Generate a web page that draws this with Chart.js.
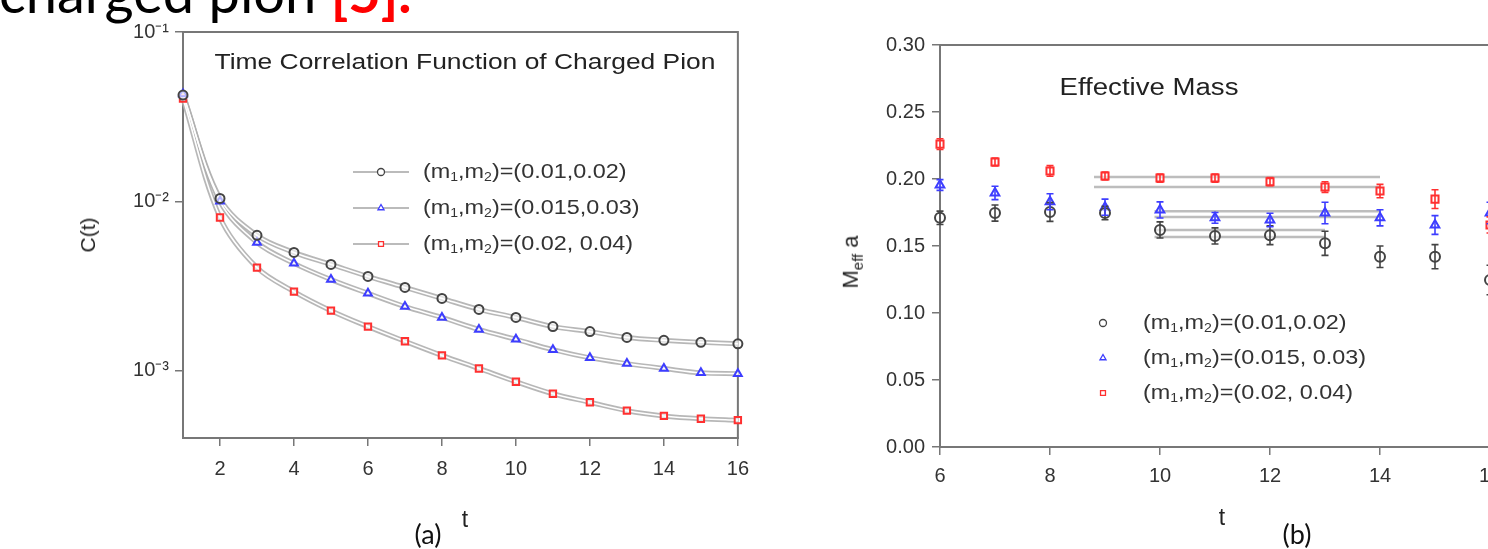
<!DOCTYPE html>
<html>
<head>
<meta charset="utf-8">
<script src="https://cdn.jsdelivr.net/npm/chart.js@4.4.1/dist/chart.umd.min.js"></script>
<style>
    html, body { margin: 0; padding: 0; background: #fff; }
    body { width: 1488px; height: 549px; overflow: hidden; position: relative; font-family: "Liberation Sans", Arial, sans-serif; color: #222; }
    .abs { position: absolute; white-space: nowrap; }
    .slide { font-family: Lato, "Open Sans", sans-serif; }
    #wrapA { position: absolute; left: 0; top: 0; width: 760px; height: 549px; }
    #wrapB { position: absolute; left: 760px; top: 0; width: 760px; height: 549px; }
    .rot { transform: translate(-50%, -50%) rotate(-90deg); }
    .ctr { transform: translate(-50%, -50%); }
    .wide { transform: translate(-50%, -50%) scaleX(1.2); }
</style>
</head>
<body>
<div class="abs slide" style="left:-1px; top:-42px; font-size:56px; color:#000;">charged pion <span style="color:#f00; font-weight:bold;">[5].</span></div>

<div id="wrapA"><canvas id="chartA" width="760" height="549"></canvas></div>
<div id="wrapB"><canvas id="chartB" width="760" height="549"></canvas></div>

<div class="abs wide" style="left:465px; top:62px; font-size:22px; color:#222;">Time Correlation Function of Charged Pion</div>
<div class="abs rot" style="left:88px; top:235px; font-size:21px; color:#222;">C(t)</div>
<div class="abs ctr" style="left:465px; top:519px; font-size:23px; color:#222;">t</div>
<div class="abs ctr slide" style="left:428px; top:533px; font-size:27px; color:#111;">(a)</div>

<div class="abs wide" style="left:1149px; top:87px; font-size:23px; color:#222;">Effective Mass</div>
<div class="abs rot" style="left:852px; top:262px; font-size:22px; color:#222;">M<sub style="font-size:15px;">eff</sub> a</div>
<div class="abs ctr" style="left:1222px; top:517px; font-size:23px; color:#222;">t</div>
<div class="abs ctr slide" style="left:1297px; top:533px; font-size:27px; color:#111;">(b)</div>

<script>
// ---- (a) time correlation function C(t), log scale ----
const tA = [1, 2, 3, 4, 5, 6, 7, 8, 9, 10, 11, 12, 13, 14, 15, 16];
const corrBlack = [0.0424, 0.0104, 0.0063, 0.00499, 0.00424, 0.0036, 0.0031, 0.00267, 0.0023, 0.00206, 0.00182, 0.0017, 0.00157, 0.00151, 0.00147, 0.00144];
const corrBlue  = [0.0430, 0.0100, 0.00571, 0.0043, 0.00345, 0.00286, 0.00239, 0.00206, 0.00175, 0.00153, 0.00133, 0.00119, 0.0011, 0.00103, 0.00097, 0.00096];
const corrRed   = [0.0405, 0.00803, 0.00406, 0.00293, 0.00226, 0.00182, 0.00149, 0.00123, 0.00103, 0.00086, 0.00073, 0.00065, 0.00058, 0.00054, 0.00052, 0.00051];
const xTicksA = [2, 4, 6, 8, 10, 12, 14, 16];
const yTicksA = [0.001, 0.01, 0.1];

// ---- (b) effective mass ----
const tB = [6, 7, 8, 9, 10, 11, 12, 13, 14, 15, 16];
const massBlack = [0.171, 0.1746, 0.1754, 0.1746, 0.162, 0.1575, 0.158, 0.152, 0.142, 0.142, 0.1246];
const massBlue  = [0.1955, 0.1896, 0.183, 0.179, 0.1769, 0.171, 0.1694, 0.1746, 0.171, 0.1657, 0.1746];
const massRed   = [0.226, 0.2127, 0.206, 0.2022, 0.2007, 0.2007, 0.198, 0.194, 0.191, 0.185, 0.1657];
const errBlack  = [0.005, 0.006, 0.007, 0.005, 0.006, 0.006, 0.007, 0.009, 0.008, 0.009, 0.011];
const errBlue   = [0.004, 0.005, 0.006, 0.006, 0.006, 0.004, 0.005, 0.008, 0.006, 0.007, 0.008];
const errRed    = [0.004, 0.003, 0.004, 0.003, 0.003, 0.003, 0.003, 0.004, 0.005, 0.007, 0.006];
// plateau fits (black, blue, red): t range and the two band edges
const fitStart = [9.9, 9.9, 8.8];
const fitEnd   = [13, 14, 14];
const fitHi    = [0.162, 0.176, 0.2015];
const fitLo    = [0.1567, 0.1716, 0.194];
const xTicksB = [6, 8, 10, 12, 14, 16];

const seriesLabels = ["(m_1,m_2)=(0.01,0.02)", "(m_1,m_2)=(0.015,0.03)", "(m_1,m_2)=(0.02, 0.04)"];
const seriesLabelsB = ["(m_1,m_2)=(0.01,0.02)", "(m_1,m_2)=(0.015, 0.03)", "(m_1,m_2)=(0.02, 0.04)"];

const BLACK = "#444", BLUE = "#3d3dff", RED = "#ff3030";
const colors = [BLACK, BLUE, RED];
const styles = ["circle", "triangle", "rect"];
const AXIS = "#777";
const TICKFONT = { family: "'Liberation Sans', Arial, sans-serif", size: 20 };

function pts(xs, ys) { return xs.map((x, i) => ({ x: x, y: ys[i] })); }
function supNum(n) {
    const m = { "-": "\u207B", "0": "\u2070", "1": "\u00B9", "2": "\u00B2", "3": "\u00B3", "4": "\u2074" };
    return String(n).split("").map(c => m[c] || c).join("");
}

// text with "_x" meaning subscript x; sx stretches it horizontally like the source image
function drawRich(ctx, str, x, y, size, sx) {
    ctx.save();
    ctx.translate(x, y);
    ctx.scale(sx, 1);
    let cx = 0;
    for (let i = 0; i < str.length; i++) {
        let ch = str[i], sub = false;
        if (ch === "_") { sub = true; ch = str[++i]; }
        ctx.font = (sub ? Math.round(size * 0.62) : size) + "px 'Liberation Sans', Arial, sans-serif";
        ctx.fillText(ch, cx, sub ? size * 0.28 : 0);
        cx += ctx.measureText(ch).width;
    }
    ctx.restore();
}

const boxPlugin = {
    id: "box",
    beforeDatasetsDraw(chart) {
        const a = chart.chartArea, ctx = chart.ctx;
        ctx.save();
        ctx.strokeStyle = AXIS; ctx.lineWidth = 2;
        ctx.strokeRect(a.left, a.top, a.right - a.left, a.bottom - a.top);
        ctx.restore();
    }
};

const legendPlugin = {
    id: "insideLegend",
    afterDraw(chart, args, o) {
        if (!o.labels) return;
        const ctx = chart.ctx;
        ctx.save();
        o.labels.forEach((lab, i) => {
            const y = o.y + i * o.dy;
            if (o.line) {
                ctx.strokeStyle = "#bbb"; ctx.lineWidth = 2;
                ctx.beginPath(); ctx.moveTo(o.x - 28, y); ctx.lineTo(o.x + 28, y); ctx.stroke();
            }
            ctx.strokeStyle = colors[i]; ctx.fillStyle = "#fff"; ctx.lineWidth = 1.3;
            Chart.helpers.drawPoint(ctx, { pointStyle: styles[i], radius: 3.5, borderWidth: 1.3, rotation: 0 }, o.x, y);
            ctx.fillStyle = "#333"; ctx.textBaseline = "middle"; ctx.textAlign = "left";
            drawRich(ctx, lab, o.textX, y, 20, 1.17);
        });
        ctx.restore();
    }
};

const errorBarPlugin = {
    id: "errorBars",
    afterDatasetsDraw(chart) {
        const ctx = chart.ctx, xs = chart.scales.x, ys = chart.scales.y;
        chart.data.datasets.forEach(ds => {
            if (!ds.errors) return;
            ctx.save();
            ctx.strokeStyle = ds.pointBorderColor; ctx.lineWidth = 1.6;
            ds.data.forEach((p, j) => {
                const x = xs.getPixelForValue(p.x);
                const y1 = ys.getPixelForValue(p.y - ds.errors[j]);
                const y2 = ys.getPixelForValue(p.y + ds.errors[j]);
                ctx.beginPath();
                ctx.moveTo(x, y1); ctx.lineTo(x, y2);
                ctx.moveTo(x - 3.5, y1); ctx.lineTo(x + 3.5, y1);
                ctx.moveTo(x - 3.5, y2); ctx.lineTo(x + 3.5, y2);
                ctx.stroke();
            });
            ctx.restore();
        });
    }
};

Chart.defaults.animation = false;
Chart.defaults.color = "#333";

// ----- chart (a) -----
const dsA = [];
[corrBlack, corrBlue, corrRed].forEach((vals, i) => {
    dsA.push({ data: pts(tA, vals), showLine: true, borderColor: "rgba(175,175,175,0.9)", borderWidth: 5,
        tension: 0.35, pointRadius: 0, order: 3, clip: false });
    dsA.push({ data: pts(tA, vals), showLine: true, borderColor: "#fff", borderWidth: 1.6,
        tension: 0.35, pointRadius: 0, order: 2, clip: false });
    dsA.push({ data: pts(tA, vals), showLine: false, pointStyle: styles[i], pointRadius: 4.5,
        pointBorderColor: colors[i], pointBackgroundColor: "rgba(255,255,255,0.6)", pointBorderWidth: 2,
        order: 1, clip: false });
});

new Chart(document.getElementById("chartA"), {
    type: "scatter",
    data: { datasets: dsA },
    options: {
        responsive: false,
        layout: { padding: { left: 0, top: 32, right: 22, bottom: 0 } },
        plugins: {
            legend: { display: false }, tooltip: { enabled: false },
            insideLegend: { labels: seriesLabels, x: 381, textX: 423, y: 172, dy: 36, line: true }
        },
        scales: {
            x: {
                type: "linear", min: 1, max: 16,
                afterBuildTicks: s => { s.ticks = xTicksA.map(v => ({ value: v })); },
                afterFit: s => { s.height = 111; },
                ticks: { font: TICKFONT, color: "#333", padding: 11, maxRotation: 0 },
                grid: { drawOnChartArea: false, tickLength: 8, color: AXIS, lineWidth: 1.5 },
                border: { color: AXIS, width: 2 }
            },
            y: {
                type: "logarithmic", min: 0.0004, max: 0.1,
                afterBuildTicks: s => { s.ticks = yTicksA.map(v => ({ value: v })); },
                afterFit: s => { s.width = 183; },
                ticks: { font: TICKFONT, color: "#333", padding: 6,
                    callback: v => "10" + supNum(Math.round(Math.log10(v))) },
                grid: { drawOnChartArea: false, tickLength: 8, color: AXIS, lineWidth: 1.5 },
                border: { color: AXIS, width: 2 }
            }
        }
    },
    plugins: [boxPlugin, legendPlugin]
});

// ----- chart (b) -----
const dsB = [];
[massBlack, massBlue, massRed].forEach((vals, i) => {
    [fitHi[i], fitLo[i]].forEach(v => {
        dsB.push({ data: [{ x: fitStart[i], y: v }, { x: fitEnd[i], y: v }], showLine: true,
            borderColor: "rgba(185,185,185,0.95)", borderWidth: 2.5, pointRadius: 0, order: 3 });
    });
});
[massBlack, massBlue, massRed].forEach((vals, i) => {
    dsB.push({ data: pts(tB, vals), showLine: false, pointStyle: styles[i], pointRadius: 5,
        pointBorderColor: colors[i], pointBackgroundColor: "rgba(255,255,255,0.6)", pointBorderWidth: 2,
        errors: [errBlack, errBlue, errRed][i], order: 1, clip: false });
});

new Chart(document.getElementById("chartB"), {
    type: "scatter",
    data: { datasets: dsB },
    options: {
        responsive: false,
        layout: { padding: { left: 0, top: 45, right: 30, bottom: 0 } },
        plugins: {
            legend: { display: false }, tooltip: { enabled: false },
            insideLegend: { labels: seriesLabelsB, x: 1103 - 760, textX: 1143 - 760, y: 323, dy: 35, line: false }
        },
        scales: {
            x: {
                type: "linear", min: 6, max: 16,
                afterBuildTicks: s => { s.ticks = xTicksB.map(v => ({ value: v })); },
                afterFit: s => { s.height = 102; },
                ticks: { font: TICKFONT, color: "#333", padding: 9, maxRotation: 0 },
                grid: { drawOnChartArea: false, tickLength: 8, color: AXIS, lineWidth: 1.5 },
                border: { color: AXIS, width: 2 }
            },
            y: {
                type: "linear", min: 0, max: 0.3,
                afterFit: s => { s.width = 180; },
                ticks: { font: TICKFONT, color: "#333", padding: 7, stepSize: 0.05,
                    callback: v => v.toFixed(2) },
                grid: { drawOnChartArea: false, tickLength: 8, color: AXIS, lineWidth: 1.5 },
                border: { color: AXIS, width: 2 }
            }
        }
    },
    plugins: [boxPlugin, legendPlugin, errorBarPlugin]
});
</script>
</body>
</html>
